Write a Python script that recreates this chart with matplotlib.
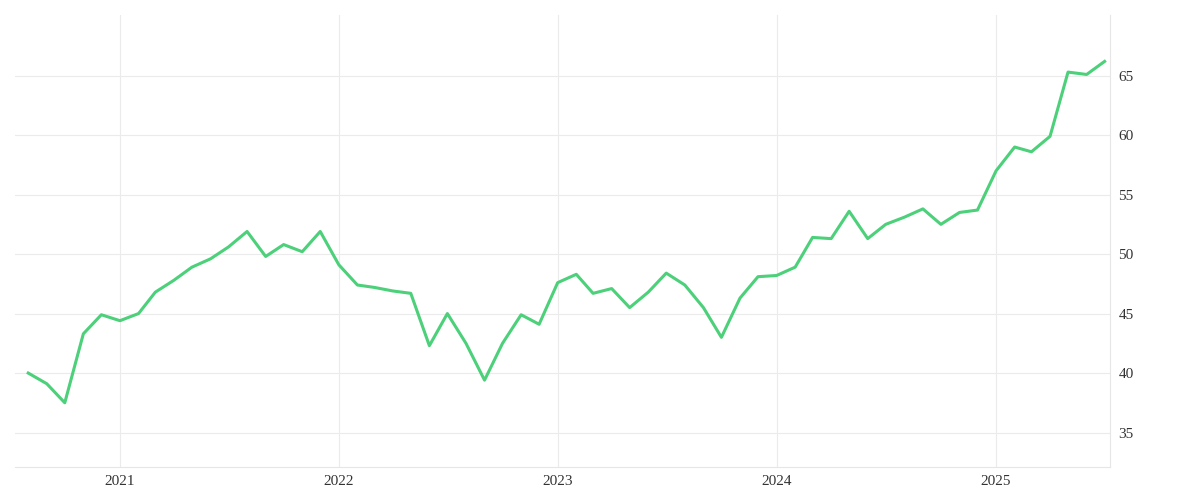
import numpy as np
import pandas as pd
import matplotlib
matplotlib.use("Agg")
import matplotlib.pyplot as plt
import matplotlib.dates as mdates

plt.rcParams['font.family'] = ['Liberation Serif', 'DejaVu Serif']

dates = pd.date_range("2020-08-01", "2025-07-01", freq="MS")
values = [40.0, 39.1, 37.5, 43.3, 44.9,
          44.4, 45.0, 46.8, 47.8, 48.9, 49.6, 50.6, 51.9, 49.8, 50.8, 50.2, 51.9,
          49.1, 47.4, 47.2, 46.9, 46.7, 42.3, 45.0, 42.5, 39.4, 42.5, 44.9, 44.1,
          47.6, 48.3, 46.7, 47.1, 45.5, 46.8, 48.4, 47.4, 45.5, 43.0, 46.3, 48.1,
          48.2, 48.9, 51.4, 51.3, 53.6, 51.3, 52.5, 53.1, 53.8, 52.5, 53.5, 53.7,
          57.0, 59.0, 58.6, 59.9, 65.3, 65.1, 66.2]
yticks = [35, 40, 45, 50, 55, 60, 65]

fig = plt.figure(figsize=(12, 5), dpi=100)
ax = fig.add_axes([0.0125, 0.066, 0.9125, 0.904])
ax.plot(dates, values, color='#4cd07a', linewidth=2.2)

ax.set_ylim(32.1, 70.1)
ax.set_xlim(pd.Timestamp("2020-07-10"), pd.Timestamp("2025-07-10"))
ax.set_yticks(yticks)
ax.yaxis.tick_right()
ax.xaxis.set_major_locator(mdates.YearLocator())
ax.xaxis.set_major_formatter(mdates.DateFormatter('%Y'))
ax.grid(True, color='#ebebeb', linewidth=0.8)
for s in ['left', 'top']:
    ax.spines[s].set_visible(False)
ax.spines['bottom'].set_color('#e6e6e6')
ax.spines['right'].set_color('#e6e6e6')
ax.tick_params(length=0, labelsize=11, colors='#333333', pad=6)

fig.savefig('out.png', dpi=100)
